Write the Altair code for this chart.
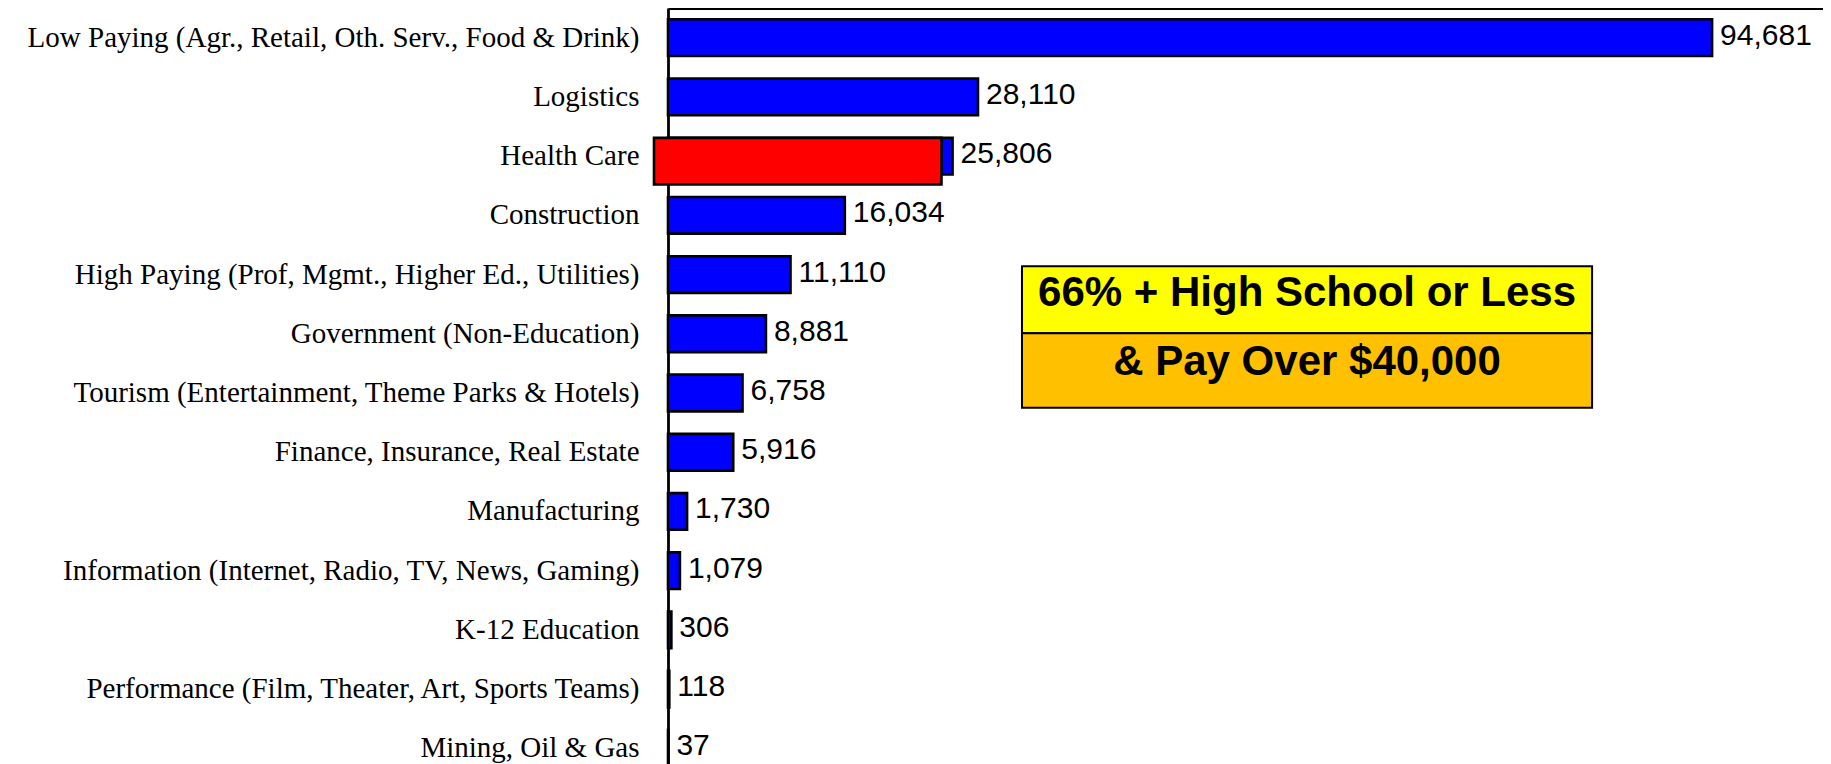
import altair as alt
import pandas as pd

# ---- data ----
categories = [
    "Low Paying (Agr., Retail, Oth. Serv., Food & Drink)",
    "Logistics",
    "Health Care",
    "Construction",
    "High Paying (Prof, Mgmt., Higher Ed., Utilities)",
    "Government (Non-Education)",
    "Tourism (Entertainment, Theme Parks & Hotels)",
    "Finance, Insurance, Real Estate",
    "Manufacturing",
    "Information  (Internet, Radio, TV, News, Gaming)",
    "K-12 Education",
    "Performance (Film, Theater, Art, Sports Teams)",
    "Mining, Oil & Gas",
]
values = [94681, 28110, 25806, 16034, 11110, 8881, 6758, 5916, 1730, 1079, 306, 118, 37]

# red highlight drawn over the Health Care bar (in data units)
highlight_category = ["Health Care"]
highlight_start = [-1270]
highlight_end = [24800]

# annotation box: two lines of text
box_lines = ["66% + High School or Less", "& Pay Over $40,000"]
box_fills = ["#FFFF00", "#FFC000"]
box_x = [32100, 83800]            # in data units of the x axis
box_rows = [4.36, 5.49, 6.75]     # in row units (0 = top of first row)
text_x = [57950, 57950]
text_rows = [4.82, 5.97]

x_max = 104740

# ---- tables ----
df = pd.DataFrame({"category": categories, "value": values})
hl_df = pd.DataFrame({"category": highlight_category, "start": highlight_start, "end": highlight_end})
box_df = pd.DataFrame({
    "line": box_lines,
    "x0": [box_x[0]] * 2,
    "x1": [box_x[1]] * 2,
    "r0": box_rows[:2],
    "r1": box_rows[1:],
})
txt_df = pd.DataFrame({"line": box_lines, "tx": text_x, "row": text_rows})

# ---- scales / axes ----
x_scale = alt.Scale(domain=[0, x_max], nice=False)
x_axis = alt.Axis(orient="top", labels=False, ticks=False, grid=False, title=None,
                  domain=True, domainColor="black", domainWidth=3.2,
                  minExtent=0, maxExtent=0)
y_scale = alt.Scale(domain=categories, paddingInner=0, paddingOuter=0)
y_axis = alt.Axis(title=None, labelFont="Liberation Serif", labelFontSize=29,
                  labelColor="black", labelPadding=29, ticks=False, tickSize=0,
                  domain=True, domainColor="black", domainWidth=2.8,
                  labelLimit=0, minExtent=660, maxExtent=660, grid=False)
row_scale = alt.Scale(domain=[0, len(categories)], reverse=True, nice=False, zero=False)


def X(field):
    return alt.X(field, scale=x_scale, axis=x_axis, title=None)


def Y():
    return alt.Y("category:N", scale=y_scale, axis=y_axis, title=None)


bars = alt.Chart(df).mark_bar(
    fill="#0000FF", stroke="black", strokeWidth=2.6,
    height=alt.RelativeBandSize(band=0.62),
).encode(x=X("value:Q"), y=Y())

highlight = alt.Chart(hl_df).mark_bar(
    fill="#FF0000", stroke="black", strokeWidth=2.6,
    height=alt.RelativeBandSize(band=0.785), yOffset=5,
).encode(x=X("start:Q"), x2="end:Q", y=Y())

labels = alt.Chart(df).mark_text(
    align="left", baseline="middle", dx=8, dy=-2,
    font="Liberation Sans", fontSize=30, color="black",
).encode(x=X("value:Q"), y=Y(), text=alt.Text("value:Q", format=",d"))

main = alt.layer(bars, highlight, labels)

box = alt.Chart(box_df).mark_rect(stroke="black", strokeWidth=2).encode(
    x=X("x0:Q"), x2="x1:Q",
    y=alt.Y("r0:Q", scale=row_scale, axis=None), y2="r1:Q",
    fill=alt.Fill("line:N", scale=alt.Scale(domain=box_lines, range=box_fills), legend=None),
)
box_text = alt.Chart(txt_df).mark_text(
    align="center", baseline="middle", font="Liberation Sans", fontWeight="bold",
    fontSize=42, color="black",
).encode(
    x=X("tx:Q"),
    y=alt.Y("row:Q", scale=row_scale, axis=None),
    text="line:N",
)
annot = alt.layer(box, box_text)

chart = alt.layer(main, annot).resolve_scale(y="independent").properties(
    width=1155, height=770, padding=0, background="white",
).configure_view(stroke=None)

chart.save("out.html", embed_options={"renderer": "svg", "actions": False})
